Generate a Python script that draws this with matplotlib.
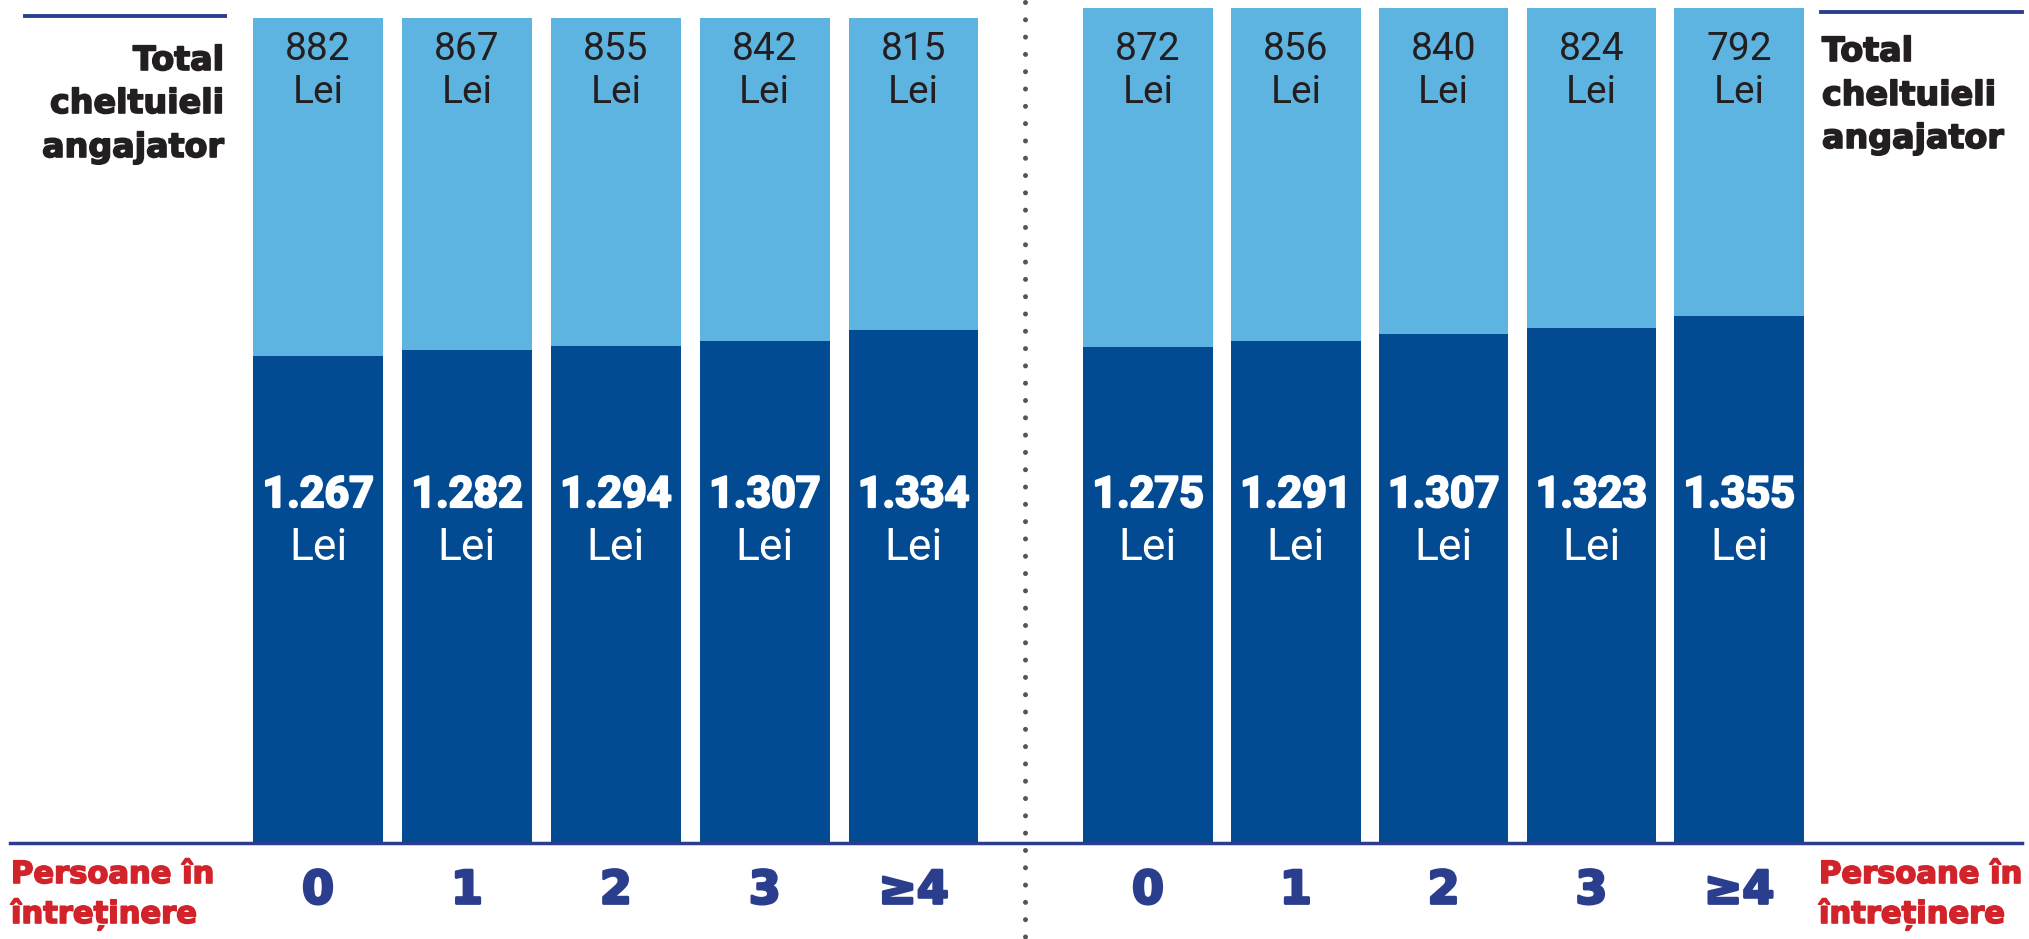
import matplotlib
matplotlib.use("Agg")
import matplotlib.pyplot as plt
import matplotlib.patheffects as pe
from matplotlib.lines import Line2D
from matplotlib.transforms import blended_transform_factory

# ---- data ----
categories = ["0", "1", "2", "3", "≥4"]
left_net = [1267, 1282, 1294, 1307, 1334]
left_tax = [882, 867, 855, 842, 815]
right_net = [1275, 1291, 1307, 1323, 1355]
right_tax = [872, 856, 840, 824, 792]

def fmt_thousands(v):
    return f"{v:,}".replace(",", ".")

# ---- style ----
W, H = 2029, 939
DARK = "#024a91"
LIGHT = "#5eb4e1"
NAVY = "#2b3e8e"
RED = "#d2232a"
TXT = "#231f20"
HEAVY = ["DejaVu Sans"]
NUMB = ["Roboto", "DejaVu Sans"]
REG = ["Roboto", "DejaVu Sans"]

def thick(color, w=1.4):
    return [pe.withStroke(linewidth=w, foreground=color)]

fig = plt.figure(figsize=(W / 100, H / 100), dpi=100)

def fy(py):
    return 1 - py / H

def make_axes(x_left, width, top_px, net, tax, bar_w):
    bottom_px = 842
    ax = fig.add_axes([x_left / W, fy(bottom_px), width / W, (bottom_px - top_px) / H])
    x = list(range(len(categories)))
    ax.bar(x, net, width=bar_w, color=DARK, linewidth=0)
    ax.bar(x, tax, bottom=net, width=bar_w, color=LIGHT, linewidth=0)
    ax.set_xlim(-0.5, len(categories) - 0.5)
    ax.set_ylim(0, max(n + t for n, t in zip(net, tax)))
    ax.axis("off")
    tr = blended_transform_factory(ax.transData, fig.transFigure)
    for i in x:
        ax.text(i, fy(60), str(tax[i]), transform=tr, ha="center", va="baseline",
                fontsize=28, family=REG, color=TXT)
        ax.text(i, fy(103), "Lei", transform=tr, ha="center", va="baseline",
                fontsize=28, family=REG, color=TXT)
        ax.text(i, fy(507), fmt_thousands(net[i]), transform=tr, ha="center", va="baseline",
                fontsize=31, family=NUMB, fontweight="bold", color="white",
                path_effects=thick("white", 1.6))
        ax.text(i, fy(560), "Lei", transform=tr, ha="center", va="baseline",
                fontsize=32, family=REG, color="white")
        ax.text(i, fy(891), categories[i], transform=tr, ha="center", va="center",
                fontsize=33, family=HEAVY, fontweight="bold", color=NAVY,
                path_effects=thick(NAVY, 2.0))
    return ax

make_axes(243.6, 744.5, 18, left_net, left_tax, 0.87)
make_axes(1074.1, 739.0, 8, right_net, right_tax, 0.876)

# baseline
fig.add_artist(Line2D([10 / W, 2022 / W], [fy(842.5), fy(842.5)], color=NAVY, lw=2.5,
                      transform=fig.transFigure))
# top lines
fig.add_artist(Line2D([25 / W, 225 / W], [fy(15.5), fy(15.5)], color=NAVY, lw=2.8,
                      transform=fig.transFigure))
fig.add_artist(Line2D([1821 / W, 2022 / W], [fy(12), fy(12)], color=NAVY, lw=2.8,
                      transform=fig.transFigure))
# dotted separator
fig.add_artist(Line2D([1025 / W, 1025 / W], [fy(1.7), 0], color="#555555", lw=3.6,
                      linestyle=(0, (0.001, 3.46)), dash_capstyle="round",
                      transform=fig.transFigure))

# side labels
for txt, y in [("Total", 70), ("cheltuieli", 113), ("angajator", 157)]:
    fig.text(224 / W, fy(y), txt, ha="right", va="baseline", fontsize=24,
             family=HEAVY, fontweight="bold", color=TXT, path_effects=thick(TXT, 1.2))
for txt, y in [("Total", 61), ("cheltuieli", 105), ("angajator", 148)]:
    fig.text(1822 / W, fy(y), txt, ha="left", va="baseline", fontsize=24,
             family=HEAVY, fontweight="bold", color=TXT, path_effects=thick(TXT, 1.2))
for x0 in (11, 1819):
    fig.text(x0 / W, fy(883), "Persoane în", ha="left", va="baseline", fontsize=22,
             family=HEAVY, fontweight="bold", color=RED, path_effects=thick(RED, 1.2))
    fig.text(x0 / W, fy(923), "întreținere", ha="left", va="baseline", fontsize=22,
             family=HEAVY, fontweight="bold", color=RED, path_effects=thick(RED, 1.2))

fig.savefig("out.png", dpi=100)
